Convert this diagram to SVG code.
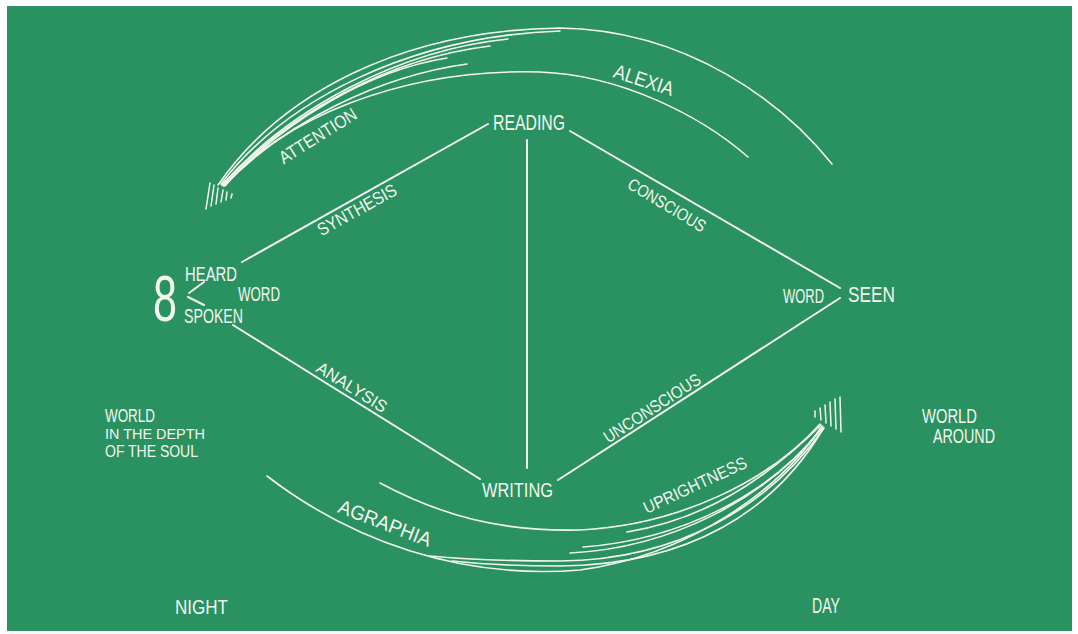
<svg xmlns="http://www.w3.org/2000/svg" width="1078" height="634" viewBox="0 0 1078 634">
<style>
.t{font-family:"Liberation Sans",Arial,sans-serif;fill:#f3f6ef;}
.l{fill:none;stroke:#f3f6ef;stroke-width:2;stroke-linecap:round;}
.a{fill:none;stroke:#f3f6ef;stroke-width:1.6;stroke-linecap:round;}
.h{fill:none;stroke:#f3f6ef;stroke-width:1.5;stroke-linecap:round;}
</style>
<rect width="1078" height="634" fill="#ffffff"/>
<rect x="7" y="6" width="1065" height="625" fill="#2a9161"/>

<g id="connectors">
<line class="l" x1="242" y1="262" x2="488" y2="124"/>
<line class="l" x1="570" y1="131" x2="840" y2="288"/>
<line class="l" x1="527" y1="140" x2="527" y2="468"/>
<line class="l" x1="233" y1="325" x2="480" y2="479"/>
<line class="l" x1="558" y1="480" x2="840" y2="298"/>
<line class="l" x1="189" y1="293" x2="204" y2="282"/>
<line class="l" x1="188" y1="297" x2="204" y2="305"/>
</g>

<g id="upper-arc">
<path class="a" d="M218,185 C280,95 400,30 560,28 C690,30 785,105 832,164"/>
<path class="a" d="M221,184 C285,100 410,36 560,31"/>
<path class="a" d="M222,185 C290,108 400,50 508,39"/>
<path class="a" d="M222,185 C290,112 390,58 490,46"/>
<path class="a" d="M223,186 C285,120 370,70 447,58"/>
<path class="a" d="M224,186 C285,122 380,76 467,64"/>
<path class="a" d="M225,186 C280,120 400,68 540,72 C620,75 700,115 748,157"/>
<g class="h">
<line x1="206" y1="209" x2="210" y2="183"/>
<line x1="211" y1="206" x2="214" y2="185"/>
<line x1="216" y1="204" x2="218" y2="188"/>
<line x1="221" y1="202" x2="223" y2="190"/>
<line x1="226" y1="200" x2="227" y2="192"/>
<line x1="231" y1="198" x2="232" y2="194"/>
</g>
</g>

<g id="lower-arc">
<path class="a" d="M267,476 C350,540 460,580 580,570 C690,555 780,490 822,426"/>
<path class="a" d="M380,483 C440,515 500,532 580,530 C680,525 770,480 820,424"/>
<path class="a" d="M821,425 C760,485 700,520 627,532"/>
<path class="a" d="M823,427 C770,495 680,540 583,547"/>
<path class="a" d="M822,428 C765,500 670,548 570,553"/>
<path class="a" d="M824,428 C770,505 680,560 560,561 C510,561 470,560 430,556"/>
<path class="a" d="M823,429 C775,510 690,565 560,566 C520,566 480,564 452,561"/>
<g class="h">
<line x1="840" y1="397" x2="841" y2="432"/>
<line x1="835" y1="399" x2="836" y2="429"/>
<line x1="830" y1="402" x2="831" y2="426"/>
<line x1="825" y1="405" x2="826" y2="423"/>
<line x1="820" y1="408" x2="821" y2="420"/>
<line x1="815" y1="411" x2="815" y2="417"/>
</g>
</g>

<g id="reading"><text class="t" x="493" y="130" font-size="22" textLength="72" lengthAdjust="spacingAndGlyphs">READING</text></g>
<g id="writing"><text class="t" x="482" y="497" font-size="21" textLength="71" lengthAdjust="spacingAndGlyphs">WRITING</text></g>
<g id="word-heard-spoken">
<text class="t" x="153" y="321" font-size="64" textLength="24" lengthAdjust="spacingAndGlyphs">8</text>
<text class="t" x="185" y="281" font-size="21" textLength="52" lengthAdjust="spacingAndGlyphs">HEARD</text>
<text class="t" x="238" y="301" font-size="21" textLength="42" lengthAdjust="spacingAndGlyphs">WORD</text>
<text class="t" x="184" y="323" font-size="20" textLength="59" lengthAdjust="spacingAndGlyphs">SPOKEN</text>
</g>
<g id="word-seen">
<text class="t" x="783" y="303" font-size="21" textLength="41" lengthAdjust="spacingAndGlyphs">WORD</text>
<text class="t" x="848" y="302" font-size="22" textLength="47" lengthAdjust="spacingAndGlyphs">SEEN</text>
</g>
<g id="world-soul">
<text class="t" x="105" y="422" font-size="19" textLength="50" lengthAdjust="spacingAndGlyphs">WORLD</text>
<text class="t" x="105" y="439" font-size="15" textLength="100" lengthAdjust="spacingAndGlyphs">IN THE DEPTH</text>
<text class="t" x="105" y="457" font-size="16" textLength="93" lengthAdjust="spacingAndGlyphs">OF THE SOUL</text>
</g>
<g id="world-around">
<text class="t" x="922" y="423" font-size="20" textLength="55" lengthAdjust="spacingAndGlyphs">WORLD</text>
<text class="t" x="933" y="443" font-size="20" textLength="62" lengthAdjust="spacingAndGlyphs">AROUND</text>
</g>
<g id="night"><text class="t" x="175" y="614" font-size="20" textLength="53" lengthAdjust="spacingAndGlyphs">NIGHT</text></g>
<g id="day"><text class="t" x="812" y="613" font-size="22" textLength="28" lengthAdjust="spacingAndGlyphs">DAY</text></g>

<g id="labels">
<text class="t" text-anchor="middle" transform="translate(318,136) rotate(-32)" x="0" y="6" font-size="18" textLength="88" lengthAdjust="spacingAndGlyphs">ATTENTION</text>
<text class="t" text-anchor="middle" transform="translate(357,210) rotate(-29)" x="0" y="6" font-size="18" textLength="88" lengthAdjust="spacingAndGlyphs">SYNTHESIS</text>
<text class="t" text-anchor="middle" transform="translate(644,80) rotate(18)" x="0" y="7" font-size="20" textLength="62" lengthAdjust="spacingAndGlyphs">ALEXIA</text>
<text class="t" text-anchor="middle" transform="translate(667,205) rotate(31)" x="0" y="6" font-size="17" textLength="88" lengthAdjust="spacingAndGlyphs">CONSCIOUS</text>
<text class="t" text-anchor="middle" transform="translate(352,387) rotate(32)" x="0" y="6" font-size="17" textLength="80" lengthAdjust="spacingAndGlyphs">ANALYSIS</text>
<text class="t" text-anchor="middle" transform="translate(652,408) rotate(-33)" x="0" y="6" font-size="17" textLength="112" lengthAdjust="spacingAndGlyphs">UNCONSCIOUS</text>
<text class="t" text-anchor="middle" transform="translate(695,485) rotate(-25)" x="0" y="6" font-size="17" textLength="112" lengthAdjust="spacingAndGlyphs">UPRIGHTNESS</text>
<text class="t" text-anchor="middle" transform="translate(385,523) rotate(21)" x="0" y="7" font-size="20" textLength="98" lengthAdjust="spacingAndGlyphs">AGRAPHIA</text>
</g>
</svg>
